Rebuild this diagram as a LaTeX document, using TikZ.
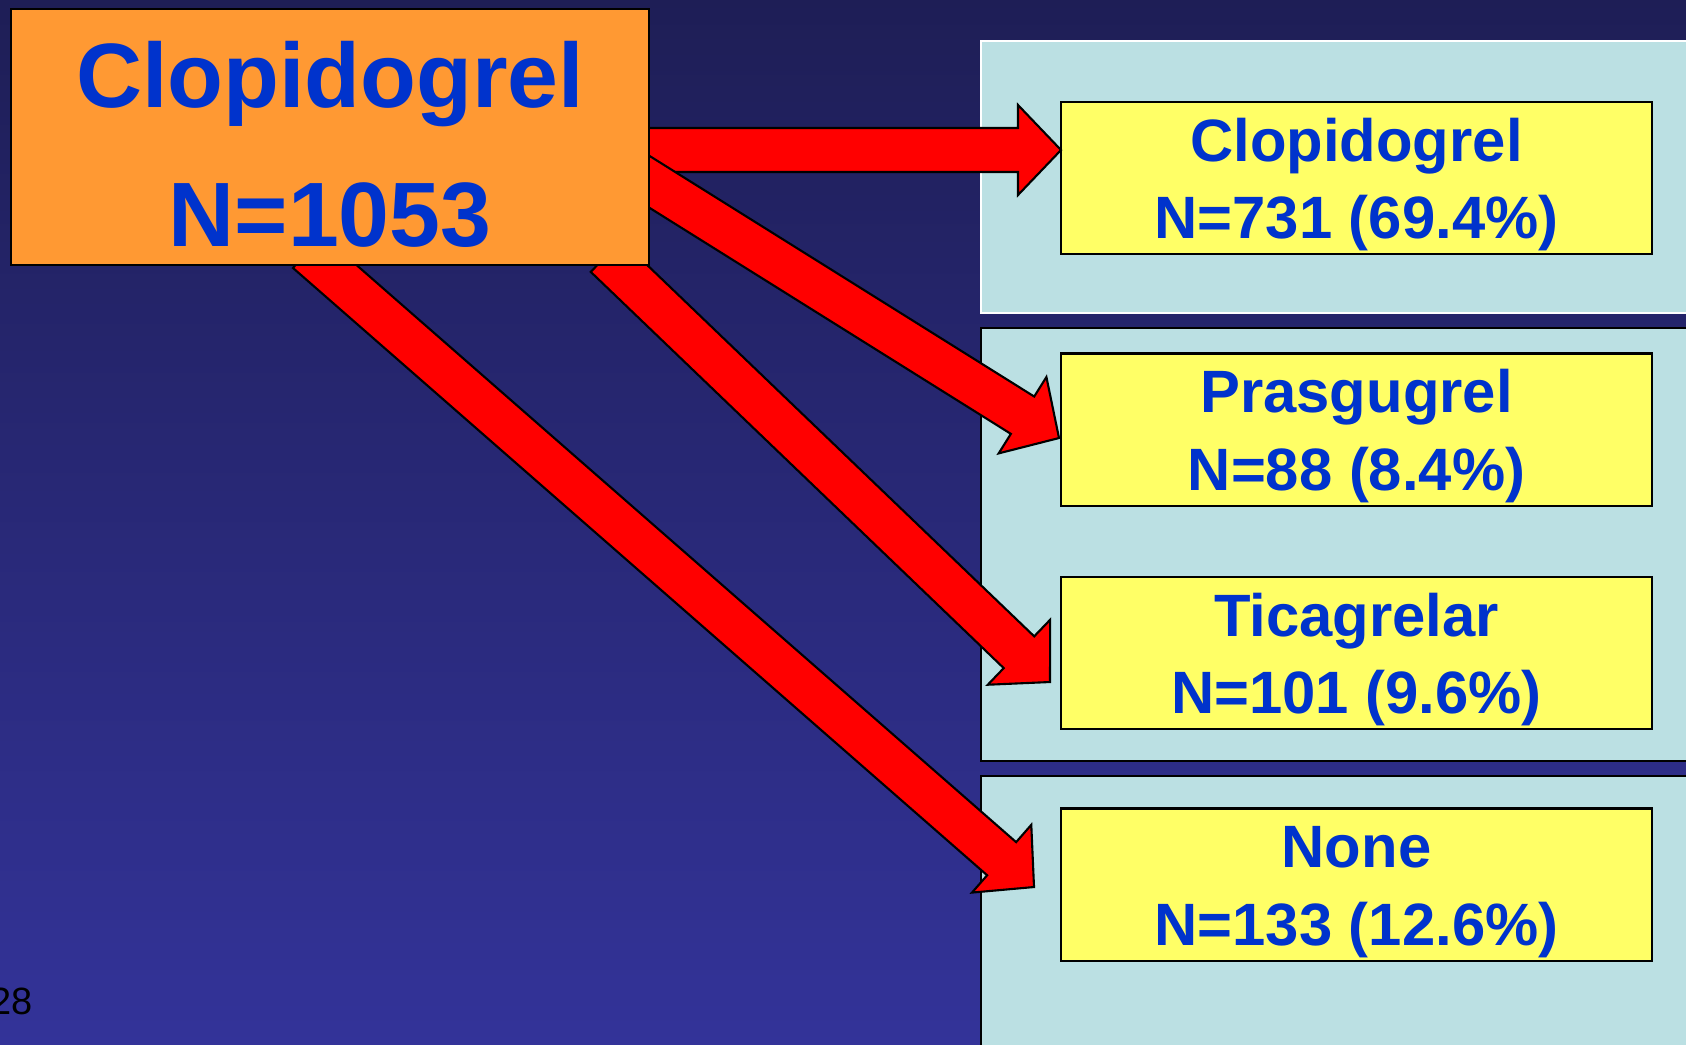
\documentclass[tikz,border=0pt]{standalone}
\usepackage{fontspec}
\setmainfont{Liberation Sans}
\usetikzlibrary{calc}
\definecolor{bgtop}{RGB}{30,30,86}
\definecolor{bgbot}{RGB}{51,51,153}
\definecolor{panelblue}{RGB}{187,224,227}
\definecolor{boxyellow}{RGB}{255,255,102}
\definecolor{boxorange}{RGB}{255,153,51}
\definecolor{textblue}{RGB}{0,51,204}
\tikzset{
  panel/.style={fill=panelblue, draw=black, line width=0.6pt},
  srcbox/.style={draw=black, fill=boxorange, line width=0.7pt, minimum width=6.38cm, minimum height=2.56cm,
    inner ysep=0pt, align=center, text=textblue, font=\fontsize{26}{39.5}\bfseries\selectfont},
  drugbox/.style={draw=black, fill=boxyellow, line width=0.6pt, minimum width=5.91cm, minimum height=1.52cm,
    inner ysep=0pt, align=center, text=textblue, font=\fontsize{17}{22}\bfseries\selectfont},
  redarrow/.style={draw=black, fill=red, line width=0.6pt, line join=miter}
}
% fat arrow from tail #1 to tip #2
\newcommand\blockarrow[2]{%
  \coordinate (#2-base) at ($(#2)!0.43cm!(#1)$);
  \draw[redarrow] ($(#1)!0.22cm!90:(#2)$) -- ($(#2-base)!0.22cm!90:(#2)$) -- ($(#2-base)!0.45cm!90:(#2)$) -- (#2)
    -- ($(#2-base)!0.45cm!-90:(#2)$) -- ($(#2-base)!0.22cm!-90:(#2)$) -- ($(#1)!0.22cm!-90:(#2)$) -- cycle;}
\begin{document}
\begin{tikzpicture}[x=0.01cm,y=-0.01cm]
\useasboundingbox (0,0) rectangle (1686,1044);
\clip (0,0) rectangle (1686,1044);
\shade[top color=bgtop, bottom color=bgbot] (0,0) rectangle (1686,1044);
\draw[panel, draw=white] (981,41) rectangle (1700,313);
\draw[panel] (981,328) rectangle (1700,761);
\draw[panel] (981,776) rectangle (1700,1060);
\node[drugbox] (clop) at (1356.5,178) {\rule{0pt}{16pt}Clopidogrel\\N=731 (69.4\%)};
\node[drugbox] (pras) at (1356.5,429.5) {\rule{0pt}{16pt}Prasgugrel\\N=88 (8.4\%)};
\node[drugbox] (tica) at (1356.5,653) {\rule{0pt}{16pt}Ticagrelar\\N=101 (9.6\%)};
\node[drugbox] (none) at (1356.5,884.5) {\rule{0pt}{16pt}None\\N=133 (12.6\%)};
\coordinate (t1) at (600,150); \coordinate (h1) at (1061,150);
\coordinate (t2) at (565,129); \coordinate (h2) at (1059,438);
\coordinate (t3) at (606,256); \coordinate (h3) at (1050,682);
\coordinate (t4) at (307.5,251.4); \coordinate (h4) at (1034,887);
\blockarrow{t1}{h1}
\blockarrow{t2}{h2}
\blockarrow{t3}{h3}
\blockarrow{t4}{h4}
\node[srcbox] (src) at (330,137) {\rule{0pt}{23pt}Clopidogrel\\N=1053};
\node[inner sep=0pt, font=\fontsize{10.8}{13}\selectfont] (pagenum) at (12,1001) {28};
\end{tikzpicture}
\end{document}
